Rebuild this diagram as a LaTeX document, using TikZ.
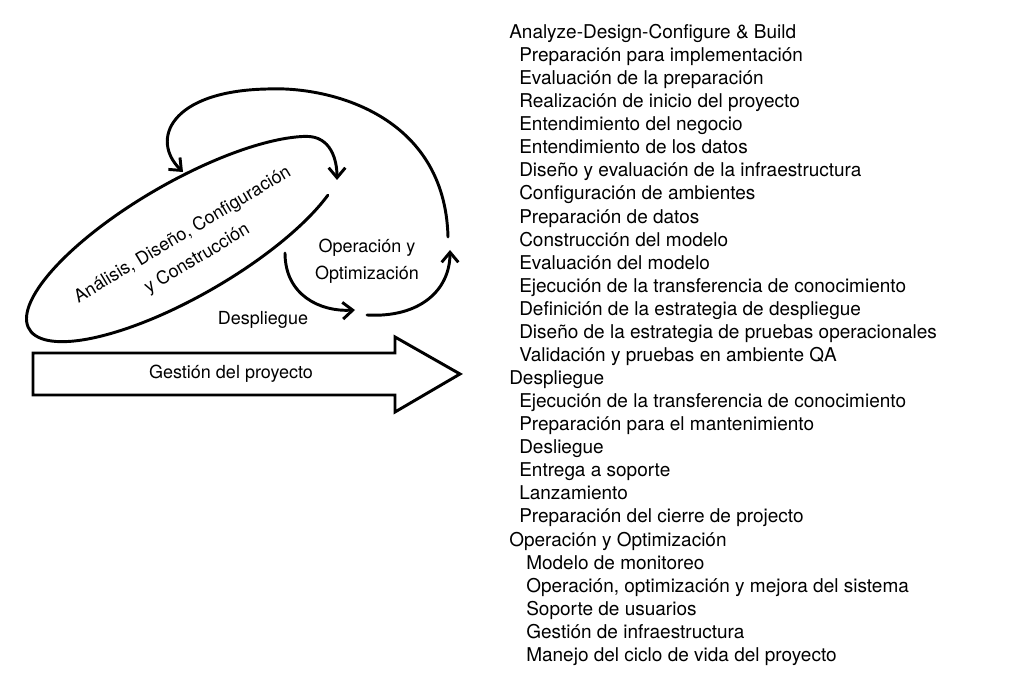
\documentclass[tikz,border=0pt]{standalone}
\usepackage{fontspec}
\setmainfont{TeX Gyre Heros}
\usetikzlibrary{arrows.meta}
\begin{document}
\begin{tikzpicture}[x=0.75pt,y=0.75pt,
  line/.style={line width=2.2pt, line join=round, line cap=round},
  flow/.style={line, -{Straight Barb[length=7.5pt,width=12.5pt]}},
  lbl/.style={font=\fontsize{13.5}{20}\selectfont, align=center, inner sep=0pt},
  item/.style={font=\fontsize{14.25}{16}\selectfont, inner sep=0pt, anchor=base west}]
\useasboundingbox (0,0) rectangle (1024,683);
% project management arrow
\coordinate (gA) at (33,330);
\coordinate (gB) at (395,330);
\coordinate (gC) at (395,346);
\coordinate (gT) at (460,309);
\coordinate (gD) at (395,271);
\coordinate (gE) at (395,288);
\coordinate (gF) at (33,288);
\draw[line, line join=miter] (gA) -- (gB) -- (gC) -- (gT) -- (gD) -- (gE) -- (gF) -- cycle;
\node[lbl] (gp) at (231,309) {Gestión del proyecto};
% ADCC loop
\coordinate (adcTip) at (337,503);
\coordinate (adcC1) at (331,547);
\coordinate (adcC2) at (337,523);
\begin{scope}[shift={(185,444)},rotate=30]
\draw[flow] (-36:180 and 57) arc[start angle=-36,end angle=-330,x radius=180,y radius=57] .. controls (adcC1) and (adcC2) .. (adcTip);
\end{scope}
\node[lbl, font=\fontsize{13.5}{21}\selectfont, rotate=31] (adc) at (190,436) {Análisis, Diseño, Configuración\\y Construcción};
% Despliegue arc
\coordinate (dS) at (285,430);
\coordinate (dT) at (355,373);
\draw[flow] (dS) .. controls (285,388) and (320,371) .. (dT);
\node[lbl] (dep) at (263,363) {Despliegue};
% Operacion arc
\coordinate (oS) at (367,368);
\coordinate (oT) at (450,433);
\draw[flow] (oS) .. controls (420,365) and (450,393) .. (oT);
\node[lbl] (op) at (367,421.5) {Operación y\\Optimización};
% big loop back
\coordinate (bS) at (448,446);
\coordinate (bM) at (267,594);
\coordinate (bT) at (183,511);
\draw[flow] (bS) .. controls (445,568) and (330,597) .. (bM) .. controls (170,592) and (150,543) .. (bT);
% list
\foreach \ind/\txt [count=\i from 0] in {
 0/{Analyze-Design-Configure \& Build},
 10/{Preparación para implementación},
 10/{Evaluación de la preparación},
 10/{Realización de inicio del proyecto},
 10/{Entendimiento del negocio},
 10/{Entendimiento de los datos},
 10/{Diseño y evaluación de la infraestructura},
 10/{Configuración de ambientes},
 10/{Preparación de datos},
 10/{Construcción del modelo},
 10/{Evaluación del modelo},
 10/{Ejecución de la transferencia de conocimiento},
 10/{Definición de la estrategia de despliegue},
 10/{Diseño de la estrategia de pruebas operacionales},
 10/{Validación y pruebas en ambiente QA},
 0/{Despliegue},
 10/{Ejecución de la transferencia de conocimiento},
 10/{Preparación para el mantenimiento},
 10/{Desliegue},
 10/{Entrega a soporte},
 10/{Lanzamiento},
 10/{Preparación del cierre de projecto},
 0/{Operación y Optimización},
 17/{Modelo de monitoreo},
 17/{Operación, optimización y mejora del sistema},
 17/{Soporte de usuarios},
 17/{Gestión de infraestructura},
 17/{Manejo del ciclo de vida del proyecto}}
 \node[item] (l\i) at ({509+\ind},{644.5-23.07*\i}) {\txt};
\end{tikzpicture}
\end{document}
